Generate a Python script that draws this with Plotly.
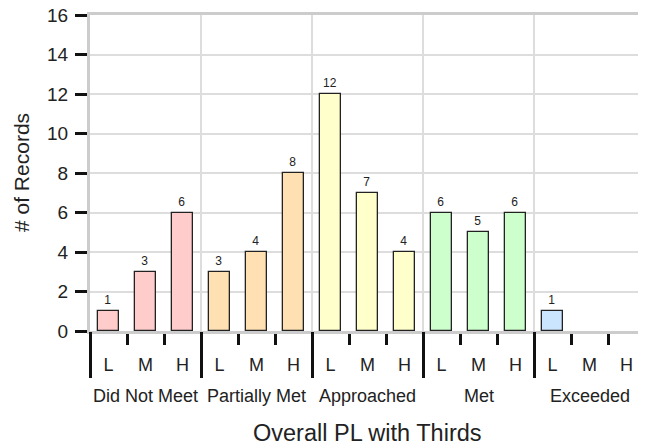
import plotly.graph_objects as go

groups = ["Did Not Meet", "Partially Met", "Approached", "Met", "Exceeded"]
subs = ["L", "M", "H"]
values = {
    "Did Not Meet": [1, 3, 6],
    "Partially Met": [3, 4, 8],
    "Approached": [12, 7, 4],
    "Met": [6, 5, 6],
    "Exceeded": [1, 0, 0],
}
group_colors = ["#ffcccc", "#fee0b2", "#ffffcc", "#ccffcc", "#cce5ff"]
y_ticks = [0, 2, 4, 6, 8, 10, 12, 14, 16]

FONT = "Liberation Sans, Arial, sans-serif"
n_sub = len(subs)
n = len(groups) * n_sub

fig = go.Figure()
for gi, g in enumerate(groups):
    xs = [gi * n_sub + si for si in range(n_sub)]
    vals = values[g]
    fig.add_trace(go.Bar(
        x=xs, y=vals,
        width=0.55,
        marker=dict(color=group_colors[gi],
                    line=dict(color="#222222", width=[1.3 if v > 0 else 0 for v in vals])),
        text=[str(v) if v > 0 else "" for v in vals],
        textposition="outside",
        textfont=dict(size=12, color="#222222", family=FONT),
        cliponaxis=False,
        showlegend=False,
        hoverinfo="skip",
    ))

# empty trace on overlay axis for group dividers / grid
fig.add_trace(go.Scatter(x=[], y=[], xaxis="x2", showlegend=False))

xr = [-0.5, n - 0.5]
within = [gi * n_sub + s - 0.5 for gi in range(len(groups)) for s in range(1, n_sub)]
bounds = [gi * n_sub - 0.5 for gi in range(len(groups) + 1)]

fig.update_layout(
    width=646, height=446,
    margin=dict(l=82, r=9, t=7, b=123, autoexpand=False),
    paper_bgcolor="white", plot_bgcolor="white",
    font=dict(family=FONT, color="#222222"),
    bargap=0,
    xaxis=dict(
        range=xr,
        tickmode="array",
        tickvals=list(range(n)),
        ticktext=subs * len(groups),
        ticks="outside", ticklen=15, tickcolor="rgba(0,0,0,0)",
        tickfont=dict(size=18, color="#222222"),
        ticklabeloverflow="allow",
        showgrid=False, zeroline=False,
        showline=True, linecolor="#cccccc", linewidth=3, mirror=True,
        minor=dict(tickmode="array", tickvals=within, ticks="outside",
                   ticklen=11, tickwidth=3, tickcolor="#111111", showgrid=False),
        fixedrange=True,
    ),
    xaxis2=dict(
        overlaying="x", side="bottom", anchor="y",
        range=xr,
        tickmode="array", tickvals=bounds,
        ticks="outside", ticklen=46, tickwidth=3, tickcolor="#111111",
        showticklabels=False,
        showgrid=True, gridcolor="#dddddd", gridwidth=1.5,
        zeroline=False, showline=False,
    ),
    yaxis=dict(
        range=[0, 16],
        tickmode="array", tickvals=y_ticks,
        ticks="outside", ticklen=12, tickwidth=3, tickcolor="#111111",
        tickfont=dict(size=19, color="#222222"),
        ticklabelstandoff=3,
        ticklabeloverflow="allow",
        showgrid=True, gridcolor="#dddddd", gridwidth=1.5,
        zeroline=False,
        showline=True, linecolor="#cccccc", linewidth=3,
    ),
)

for gi, g in enumerate(groups):
    fig.add_annotation(
        x=gi * n_sub + (n_sub - 1) / 2, xref="x",
        y=0, yref="paper", yanchor="middle", yshift=-65,
        text=g, showarrow=False,
        font=dict(size=18, color="#222222", family=FONT),
    )

fig.add_annotation(
    x=0.5, xref="paper", y=0, yref="paper", yanchor="middle", yshift=-102,
    text="Overall PL with Thirds", showarrow=False,
    font=dict(size=23.5, color="#222222", family=FONT),
)
fig.add_annotation(
    x=0, xref="paper", xanchor="center", xshift=-69,
    y=0.5, yref="paper", yanchor="middle",
    text="# of Records", textangle=-90, showarrow=False,
    font=dict(size=21, color="#222222", family=FONT),
)

fig.write_html("out.html")
